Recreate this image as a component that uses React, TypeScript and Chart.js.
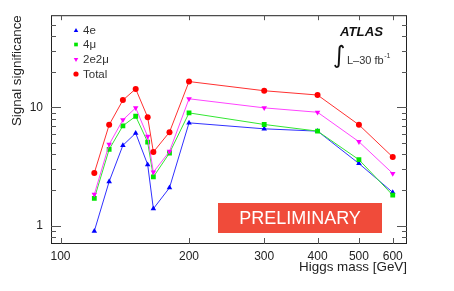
import { useEffect, useRef } from 'react';
import { Chart, registerables } from 'chart.js';

Chart.register(...registerables);

const masses = [120, 130, 140, 150, 160, 165, 180, 200, 300, 400, 500, 600];
const sig4e = [0.9, 2.36, 4.77, 6.05, 3.28, 1.39, 2.09, 7.39, 6.58, 6.29, 3.35, 1.91];
const sig4mu = [1.7, 4.41, 6.98, 8.4, 5.08, 2.58, 4.11, 8.97, 7.16, 6.29, 3.61, 1.81];
const sig2e2mu = [1.84, 4.86, 7.83, 9.89, 5.67, 2.83, 4.24, 11.8, 9.89, 9.08, 5.12, 2.76];
const sigTotal = [2.79, 7.11, 11.5, 14.3, 8.24, 4.19, 6.17, 16.5, 13.8, 12.7, 7.11, 3.8];

const seriesNames = ['4e', '4\u03bc', '2e2\u03bc', 'Total'];
const xTickValues = [100, 200, 300, 400, 500, 600];
const yMajorTicks = [1, 10];
const yMinorTicks = [0.8, 0.9, 2, 3, 4, 5, 6, 7, 8, 9, 20, 30, 40, 50];

const FONT = "'Liberation Sans', Arial, Helvetica, sans-serif";

const colors = ['#0000ff', '#00e600', '#ff00ff', '#ff0000'];
const lineColors = ['#3030ff', '#33e633', '#ff44ff', '#ff3030'];
const pointStyles = ['triangle', 'rect', 'triangle', 'circle'];
const pointRotations = [0, 0, 180, 0];
const pointRadii = [3.2, 3.4, 3.2, 3];

function drawMarker(ctx: CanvasRenderingContext2D, style: string, rot: number, x: number, y: number, r: number) {
  ctx.beginPath();
  if (style === 'circle') {
    ctx.arc(x, y, r, 0, Math.PI * 2);
  } else if (style === 'rect') {
    const s = r * Math.SQRT1_2;
    ctx.rect(x - s, y - s, 2 * s, 2 * s);
  } else {
    const dir = rot === 180 ? -1 : 1;
    for (let i = 0; i < 3; i++) {
      const ang = (i * 2 * Math.PI) / 3;
      const px = x + Math.sin(ang) * r;
      const py = y - dir * Math.cos(ang) * r;
      if (i === 0) ctx.moveTo(px, py);
      else ctx.lineTo(px, py);
    }
    ctx.closePath();
  }
  ctx.fill();
}

const decorPlugin = {
  id: 'decor',
  afterDraw(chart: any) {
    const { ctx, chartArea: a, scales } = chart;
    const xs = scales.x;
    const ys = scales.y;
    ctx.save();
    // frame
    ctx.strokeStyle = '#222';
    ctx.lineWidth = 1;
    ctx.strokeRect(a.left + 0.5, a.top + 0.5, a.right - a.left - 1, a.bottom - a.top - 1);
    // y ticks
    ctx.strokeStyle = '#555';
    const yt = (v: number, len: number) => {
      const py = Math.round(ys.getPixelForValue(v)) + 0.5;
      ctx.beginPath();
      ctx.moveTo(a.left, py);
      ctx.lineTo(a.left + len, py);
      ctx.moveTo(a.right, py);
      ctx.lineTo(a.right - len, py);
      ctx.stroke();
    };
    yMajorTicks.forEach((v) => yt(v, 10));
    yMinorTicks.forEach((v) => yt(v, 5));
    xTickValues.forEach((v) => {
      const px = Math.round(xs.getPixelForValue(v)) + 0.5;
      ctx.beginPath();
      ctx.moveTo(px, a.bottom);
      ctx.lineTo(px, a.bottom - 6);
      ctx.moveTo(px, a.top);
      ctx.lineTo(px, a.top + 5);
      ctx.stroke();
    });

    // legend
    ctx.textBaseline = 'middle';
    ctx.textAlign = 'left';
    ctx.font = `11.5px ${FONT}`;
    const rows = [30.7, 44.5, 59.3, 74];
    seriesNames.forEach((name, i) => {
      ctx.fillStyle = colors[i];
      drawMarker(ctx, pointStyles[i], pointRotations[i], 76, rows[i], 2.6);
      ctx.fillStyle = '#333';
      ctx.fillText(name, 83, rows[i] + 0.5);
    });

    // ATLAS label
    ctx.fillStyle = '#111';
    ctx.font = `italic bold 13.2px ${FONT}`;
    ctx.fillText('ATLAS', 340, 32.5);
    ctx.font = `24px 'DejaVu Sans', ${FONT}`;
    ctx.fillText('\u222b', 333, 57);
    ctx.font = `11px ${FONT}`;
    ctx.fillStyle = '#333';
    ctx.fillText('L\u201330 fb', 347, 61);
    const w = ctx.measureText('L\u201330 fb').width;
    ctx.font = `7px ${FONT}`;
    ctx.fillText('-1', 347 + w + 0.5, 56);

    // PRELIMINARY box
    ctx.fillStyle = '#f04b3a';
    ctx.fillRect(218, 203, 164, 30);
    ctx.fillStyle = '#ffffff';
    ctx.textAlign = 'center';
    ctx.font = `18px ${FONT}`;
    ctx.fillText('PRELIMINARY', 300, 219);
    ctx.restore();
  },
};

export default function App() {
  const ref = useRef<HTMLCanvasElement | null>(null);
  useEffect(() => {
    if (!ref.current) return;
    const allSeries = [sig4e, sig4mu, sig2e2mu, sigTotal];
    const chart = new Chart(ref.current, {
      type: 'line',
      data: {
        datasets: allSeries.map((vals, i) => ({
          label: seriesNames[i],
          data: masses.map((m, j) => ({ x: m, y: vals[j] })),
          borderColor: lineColors[i],
          backgroundColor: colors[i],
          pointBackgroundColor: colors[i],
          pointBorderColor: colors[i],
          pointBorderWidth: 0,
          pointStyle: pointStyles[i] as any,
          rotation: pointRotations[i],
          pointRadius: pointRadii[i],
          borderWidth: 1,
          tension: 0,
          order: 4 - i,
        })),
      },
      options: {
        animation: false,
        responsive: false,
        maintainAspectRatio: false,
        layout: { padding: { left: 0, right: 47, top: 14, bottom: 0 } },
        plugins: {
          legend: { display: false },
          tooltip: { enabled: false },
        },
        scales: {
          x: {
            type: 'logarithmic',
            min: 95,
            max: 648,
            grid: { display: false, drawTicks: false },
            border: { display: false },
            afterBuildTicks: (s: any) => {
              s.ticks = xTickValues.map((v) => ({ value: v }));
            },
            afterFit: (s: any) => {
              s.height = 47;
            },
            ticks: {
              autoSkip: false,
              maxRotation: 0,
              padding: 5,
              color: '#222',
              font: { family: FONT, size: 12 },
              callback: (v: any) => String(v),
            },
            title: {
              display: true,
              text: 'Higgs mass [GeV]',
              align: 'end',
              color: '#222',
              font: { family: FONT, size: 13.4 },
              padding: { top: 0, bottom: 15.5 },
            },
          },
          y: {
            type: 'logarithmic',
            min: 0.7,
            max: 60,
            grid: { display: false, drawTicks: false },
            border: { display: false },
            afterBuildTicks: (s: any) => {
              s.ticks = yMajorTicks.map((v) => ({ value: v }));
            },
            afterFit: (s: any) => {
              s.width = 51;
            },
            ticks: {
              autoSkip: false,
              padding: 8,
              color: '#222',
              font: { family: FONT, size: 12 },
              callback: (v: any) => String(v),
            },
            title: {
              display: true,
              text: 'Signal significance',
              align: 'end',
              color: '#222',
              font: { family: FONT, size: 13.4 },
              padding: { top: 9, bottom: 0 },
            },
          },
        },
      },
      plugins: [decorPlugin],
    });
    return () => chart.destroy();
  }, []);
  return (
    <div style={{ position: 'absolute', left: 0, top: 0, width: 454, height: 291, background: '#fff' }}>
      <canvas ref={ref} width={454} height={291} style={{ width: 454, height: 291, display: 'block' }} />
    </div>
  );
}
